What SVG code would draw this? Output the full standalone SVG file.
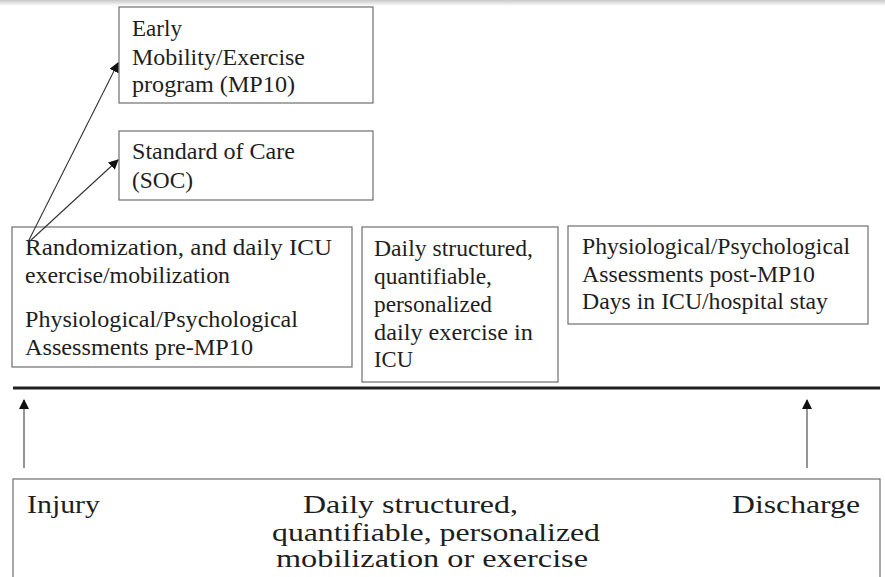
<svg xmlns="http://www.w3.org/2000/svg" width="885" height="577" viewBox="0 0 885 577">
<style>
.box{fill:#fff;stroke:#6e6e6e;stroke-width:1.2}
text{font-family:"Liberation Serif","DejaVu Serif",serif;fill:#1e1e1e}
.t{font-size:23px}
.b{font-size:25px}
.c{stroke:#333;stroke-width:1.1;fill:none}
.up{stroke:#8a8a8a;stroke-width:1.8;fill:none}
</style>
<defs>
<linearGradient id="shade" x1="0" y1="0" x2="0" y2="1">
<stop offset="0" stop-color="#c8c8c8"/>
<stop offset="1" stop-color="#ffffff"/>
</linearGradient>
<marker id="ah" viewBox="0 0 10 10" refX="9" refY="5" markerWidth="10" markerHeight="10" markerUnits="userSpaceOnUse" orient="auto">
<path d="M0,0 L10,5 L0,10 z" fill="#111"/>
</marker>
</defs>
<rect x="0" y="0" width="885" height="577" fill="#fff"/>
<rect x="0" y="0" width="885" height="6" fill="url(#shade)"/>

<g id="mp10">
<rect class="box" x="119" y="7" width="254" height="96"/>
<text class="t" x="132" y="36" textLength="50" lengthAdjust="spacingAndGlyphs">Early</text>
<text class="t" x="132" y="65" textLength="173" lengthAdjust="spacingAndGlyphs">Mobility/Exercise</text>
<text class="t" x="132" y="92" textLength="163" lengthAdjust="spacingAndGlyphs">program  (MP10)</text>
</g>

<g id="soc">
<rect class="box" x="119" y="131" width="254" height="69"/>
<text class="t" x="132" y="159" textLength="163" lengthAdjust="spacingAndGlyphs">Standard  of Care</text>
<text class="t" x="132" y="188" textLength="61" lengthAdjust="spacingAndGlyphs">(SOC)</text>
</g>

<g id="randomization">
<rect class="box" x="12" y="227" width="340" height="140"/>
<text class="t" x="25" y="255" textLength="307" lengthAdjust="spacingAndGlyphs">Randomization,  and daily ICU</text>
<text class="t" x="25" y="283" textLength="205" lengthAdjust="spacingAndGlyphs">exercise/mobilization</text>
<text class="t" x="25" y="327" textLength="273" lengthAdjust="spacingAndGlyphs">Physiological/Psychological</text>
<text class="t" x="25" y="355" textLength="228" lengthAdjust="spacingAndGlyphs">Assessments  pre-MP10</text>
</g>

<g id="daily-icu">
<rect class="box" x="362" y="227" width="196" height="155"/>
<text class="t" x="374" y="256" textLength="159" lengthAdjust="spacingAndGlyphs">Daily  structured,</text>
<text class="t" x="374" y="284" textLength="118" lengthAdjust="spacingAndGlyphs">quantifiable,</text>
<text class="t" x="374" y="312" textLength="118" lengthAdjust="spacingAndGlyphs">personalized</text>
<text class="t" x="374" y="340" textLength="159" lengthAdjust="spacingAndGlyphs">daily  exercise  in</text>
<text class="t" x="374" y="367" textLength="39" lengthAdjust="spacingAndGlyphs">ICU</text>
</g>

<g id="post">
<rect class="box" x="568" y="226" width="300" height="98"/>
<text class="t" x="582" y="254" textLength="268" lengthAdjust="spacingAndGlyphs">Physiological/Psychological</text>
<text class="t" x="582" y="282" textLength="233" lengthAdjust="spacingAndGlyphs">Assessments  post-MP10</text>
<text class="t" x="582" y="309" textLength="246" lengthAdjust="spacingAndGlyphs">Days  in ICU/hospital  stay</text>
</g>

<g id="timeline">
<line x1="13" y1="388" x2="880" y2="388" stroke="#222" stroke-width="3"/>
</g>

<g id="bottom">
<rect class="box" x="13" y="479" width="867" height="110"/>
<text class="b" x="27" y="513" textLength="73" lengthAdjust="spacingAndGlyphs">Injury</text>
<text class="b" x="303" y="513" textLength="215" lengthAdjust="spacingAndGlyphs">Daily structured,</text>
<text class="b" x="272" y="541" textLength="328" lengthAdjust="spacingAndGlyphs">quantifiable, personalized</text>
<text class="b" x="276" y="567" textLength="312" lengthAdjust="spacingAndGlyphs">mobilization or exercise</text>
<text class="b" x="732" y="513" textLength="128" lengthAdjust="spacingAndGlyphs">Discharge</text>
</g>

<g id="connectors">
<line class="c" x1="28" y1="242" x2="118" y2="63" marker-end="url(#ah)"/>
<line class="c" x1="30" y1="241" x2="118" y2="160" marker-end="url(#ah)"/>
<line class="up" x1="24" y1="468" x2="24" y2="400" marker-end="url(#ah)"/>
<line class="up" x1="807" y1="468" x2="807" y2="400" marker-end="url(#ah)"/>
</g>
</svg>
